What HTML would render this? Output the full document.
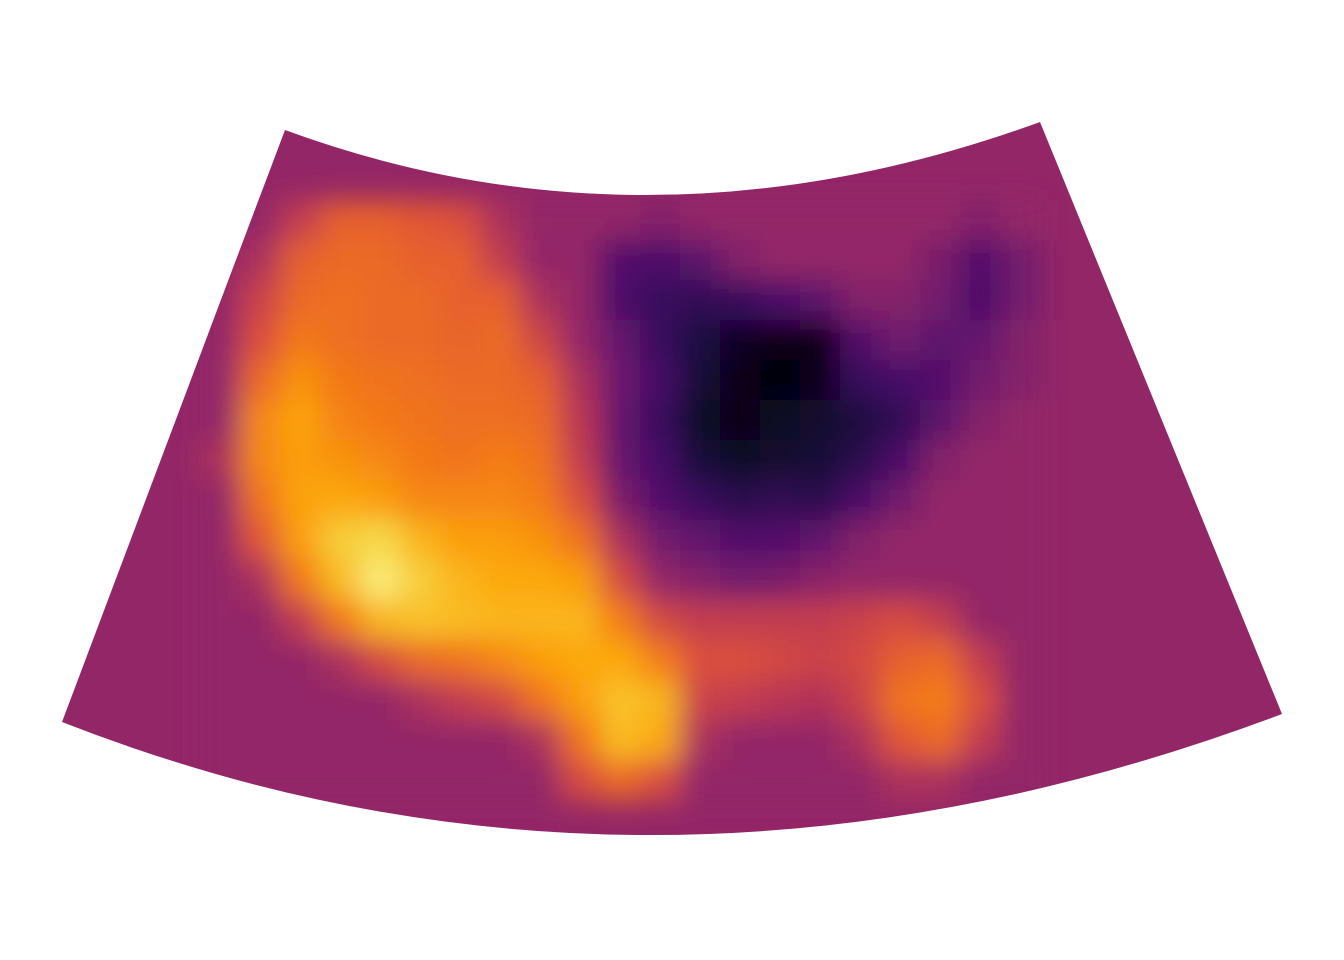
<!DOCTYPE html>
<html><head><meta charset="utf-8">
<style>html,body{margin:0;padding:0;background:#fff;}svg{display:block;}</style></head>
<body>
<svg id="chart" width="1344" height="960" viewBox="0 0 1344 960" xmlns="http://www.w3.org/2000/svg">
<defs>
<clipPath id="fan"><path d="M285,130 Q650,264 1040,122 L1282,714 Q650,952 62,722 Z"/></clipPath>
<filter id="blur" x="-10%" y="-10%" width="120%" height="120%"><feGaussianBlur stdDeviation="14"/></filter>
</defs>
<g clip-path="url(#fan)">
<rect x="0" y="0" width="1344" height="960" fill="#932667"/>
<g id="cells" filter="url(#blur)"></g>
</g>
</svg>
<script>
const colStarts = [200,240,280,320,360,400,440,480,520,560,600,640,680,720,760,800,840,880,920,960,1000];
const rowStarts = [200,240,280,320,360,400,440,480,520,560,600,640,680,720,760];
const row0 = [.5,.5,.6,.7,.7,.68,.66,.55,.5,.5,.5,.45,.5,.5,.5,.5,.5,.5,.5,.45,.5];
const row1 = [.5,.55,.7,.72,.72,.7,.7,.6,.5,.5,.3,.28,.33,.45,.5,.5,.5,.5,.42,.3,.4];
const row2 = [.5,.62,.72,.73,.72,.72,.7,.7,.55,.5,.28,.22,.2,.22,.28,.33,.45,.45,.4,.28,.4];
const row3 = [.5,.66,.75,.73,.72,.72,.71,.72,.63,.5,.36,.22,.15,.07,.04,.05,.3,.4,.33,.36,.45];
const row4 = [.5,.72,.8,.75,.74,.73,.72,.72,.7,.55,.38,.26,.12,.04,.02,.06,.22,.26,.3,.4,.45];
const row5 = [.5,.78,.83,.77,.75,.74,.73,.73,.72,.58,.36,.22,.08,.04,.08,.1,.14,.2,.33,.45,.5];
const row6 = [.55,.78,.82,.8,.78,.75,.74,.76,.74,.6,.36,.26,.13,.08,.1,.12,.18,.28,.45,.5,.5];
const row7 = [.5,.74,.83,.84,.82,.78,.78,.78,.76,.66,.43,.3,.22,.18,.2,.18,.28,.4,.5,.5,.5];
const row8 = [.5,.68,.82,.9,.92,.86,.82,.82,.8,.74,.55,.4,.35,.3,.3,.35,.45,.5,.5,.5,.5];
const row9 = [.5,.55,.75,.87,.96,.9,.86,.84,.84,.82,.65,.5,.45,.4,.42,.48,.5,.5,.5,.5,.5];
const row10 = [.5,.5,.6,.75,.86,.88,.87,.86,.86,.86,.76,.64,.6,.6,.6,.6,.62,.65,.6,.5,.5];
const row11 = [.5,.5,.5,.55,.65,.72,.74,.78,.82,.84,.84,.76,.66,.66,.64,.62,.64,.7,.72,.6,.5];
const row12 = [.5,.5,.5,.5,.5,.55,.6,.64,.74,.82,.88,.86,.62,.6,.58,.56,.62,.74,.76,.66,.5];
const row13 = [.5,.5,.5,.5,.5,.5,.5,.5,.55,.74,.87,.84,.55,.5,.5,.5,.55,.68,.72,.6,.5];
const row14 = [.5,.5,.5,.5,.5,.5,.5,.5,.5,.65,.72,.66,.5,.5,.5,.5,.5,.55,.55,.5,.5];
const values = [row0,row1,row2,row3,row4,row5,row6,row7,row8,row9,row10,row11,row12,row13,row14];

const inferno = ["#000004","#160b39","#420a68","#6a176e","#932667","#bc3754","#dd513a","#f37819","#fca50a","#f6d746","#fcffa4"];
function hex(h){return [1,3,5].map(i=>parseInt(h.substr(i,2),16));}
function color(v){
  let t = v < .5 ? v*0.8 : .4 + (v-.5)*1.2;
  t = Math.max(0, Math.min(1, t));
  const p = t*10, i = Math.min(9, Math.floor(p)), f = p - i;
  const a = hex(inferno[i]), b = hex(inferno[i+1]);
  return "rgb(" + a.map((c,k)=>Math.round(c+(b[k]-c)*f)).join(",") + ")";
}
const cellW = 40, cellH = 40;
const g = document.getElementById("cells");
values.forEach((row, r) => {
  row.forEach((v, c) => {
    const rect = document.createElementNS("http://www.w3.org/2000/svg", "rect");
    
    
    rect.setAttribute("x", colStarts[c]);
    rect.setAttribute("y", rowStarts[r]);
    rect.setAttribute("width", cellW + 1);
    rect.setAttribute("height", cellH + 1);
    rect.setAttribute("fill", color(v));
    g.appendChild(rect);
  });
});
</script>
</body></html>
